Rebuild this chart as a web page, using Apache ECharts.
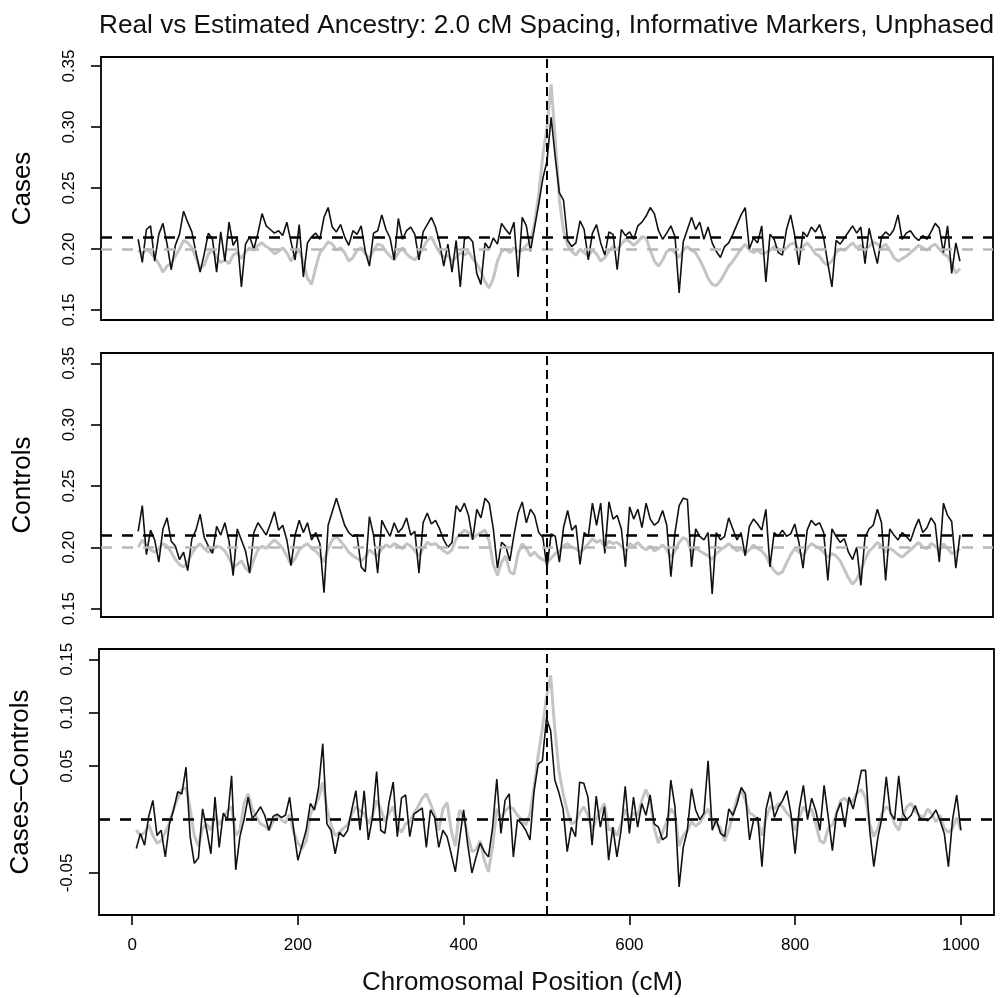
<!DOCTYPE html>
<html>
<head>
<meta charset="utf-8">
<title>Real vs Estimated Ancestry</title>
<script src="https://cdn.jsdelivr.net/npm/echarts@6/dist/echarts.min.js"></script>
<style>
  html, body { margin: 0; padding: 0; background: #fff; }
  #chart { width: 1002px; height: 998px; }
</style>
</head>
<body>
<div id="chart"></div>
<script>
const chart = echarts.init(document.getElementById('chart'));
const font = 'Liberation Sans, Arial, Helvetica, sans-serif';

// marker positions, cM (5 cM grid, 5..1000)
const positions = [];
for (let cM = 5; cM <= 1000; cM += 5) positions.push(cM);

const xTicks = [0, 200, 400, 600, 800, 1000];
const ancestryTicks = [0.15, 0.20, 0.25, 0.30, 0.35];
const diffTicks = [-0.05, 0.05, 0.10, 0.15];

const estimatedMean = 0.212;
const realMean = 0.200;
const locusPosition = 500;

// Cases: estimated (black) and real (grey)
const casesEstimated = [
  0.208, 0.189, 0.216, 0.219, 0.190, 0.212, 0.221, 0.204, 0.183, 0.203,
  0.212, 0.231, 0.222, 0.214, 0.197, 0.181, 0.196, 0.213, 0.208, 0.181,
  0.214, 0.190, 0.222, 0.203, 0.209, 0.169, 0.204, 0.210, 0.200, 0.213,
  0.229, 0.219, 0.216, 0.213, 0.215, 0.211, 0.222, 0.206, 0.191, 0.220,
  0.177, 0.205, 0.210, 0.213, 0.208, 0.226, 0.234, 0.218, 0.214, 0.220,
  0.210, 0.203, 0.215, 0.212, 0.219, 0.198, 0.186, 0.213, 0.215, 0.228,
  0.216, 0.209, 0.191, 0.225, 0.208, 0.215, 0.218, 0.212, 0.191, 0.214,
  0.220, 0.226, 0.218, 0.205, 0.186, 0.204, 0.181, 0.207, 0.169, 0.208,
  0.210, 0.206, 0.180, 0.171, 0.205, 0.200, 0.209, 0.204, 0.221, 0.216,
  0.212, 0.222, 0.177, 0.226, 0.219, 0.198, 0.218, 0.237, 0.258, 0.272,
  0.308, 0.275, 0.246, 0.240, 0.207, 0.202, 0.205, 0.223, 0.216, 0.191,
  0.213, 0.220, 0.205, 0.195, 0.214, 0.212, 0.183, 0.216, 0.211, 0.214,
  0.208, 0.219, 0.222, 0.227, 0.234, 0.229, 0.215, 0.208, 0.213, 0.219,
  0.210, 0.164, 0.206, 0.216, 0.226, 0.216, 0.222, 0.208, 0.218, 0.205,
  0.198, 0.193, 0.202, 0.205, 0.212, 0.220, 0.228, 0.234, 0.200, 0.209,
  0.205, 0.219, 0.173, 0.212, 0.208, 0.197, 0.195, 0.216, 0.228, 0.211,
  0.187, 0.214, 0.210, 0.218, 0.214, 0.220, 0.209, 0.188, 0.169, 0.207,
  0.204, 0.209, 0.214, 0.219, 0.213, 0.218, 0.188, 0.217, 0.202, 0.188,
  0.210, 0.214, 0.211, 0.216, 0.228, 0.208, 0.213, 0.215, 0.210, 0.207,
  0.211, 0.208, 0.214, 0.221, 0.217, 0.197, 0.219, 0.180, 0.205, 0.190
];
const casesReal = [
  0.199, 0.196, 0.200, 0.197, 0.193, 0.188, 0.181, 0.186, 0.188, 0.194,
  0.200, 0.207, 0.205, 0.201, 0.193, 0.184, 0.187, 0.196, 0.199, 0.193,
  0.189, 0.191, 0.188, 0.195, 0.197, 0.192, 0.198, 0.201, 0.199, 0.203,
  0.205, 0.202, 0.200, 0.196, 0.198, 0.201, 0.197, 0.190, 0.196, 0.199,
  0.189, 0.176, 0.171, 0.185, 0.197, 0.201, 0.206, 0.204, 0.199, 0.201,
  0.197, 0.190, 0.193, 0.199, 0.201, 0.196, 0.192, 0.199, 0.204, 0.203,
  0.198, 0.194, 0.191, 0.197, 0.201, 0.196, 0.193, 0.191, 0.195, 0.201,
  0.207, 0.210, 0.203, 0.197, 0.193, 0.195, 0.190, 0.193, 0.197, 0.195,
  0.198, 0.192, 0.188, 0.182, 0.173, 0.168, 0.176, 0.190, 0.198, 0.200,
  0.197, 0.201, 0.198, 0.199, 0.203, 0.206, 0.221, 0.245, 0.277, 0.300,
  0.335, 0.290, 0.240, 0.215, 0.203, 0.198, 0.195, 0.200, 0.197, 0.194,
  0.199, 0.196, 0.190, 0.193, 0.198, 0.202, 0.199, 0.204, 0.208, 0.206,
  0.203, 0.206, 0.210, 0.209, 0.199, 0.190, 0.186, 0.191, 0.198, 0.200,
  0.197, 0.193, 0.199, 0.202, 0.199, 0.197, 0.191, 0.184, 0.176, 0.171,
  0.170, 0.174, 0.180, 0.186, 0.190, 0.195, 0.200, 0.204, 0.199, 0.197,
  0.199, 0.196, 0.197, 0.199, 0.202, 0.200, 0.198, 0.201, 0.204, 0.205,
  0.199, 0.202, 0.205, 0.201, 0.196, 0.194, 0.189, 0.187, 0.190, 0.197,
  0.200, 0.199, 0.202, 0.205, 0.201, 0.203, 0.200, 0.202, 0.206, 0.204,
  0.201, 0.204, 0.199, 0.193, 0.190, 0.192, 0.194, 0.197, 0.200, 0.203,
  0.201, 0.199, 0.202, 0.204, 0.200, 0.196, 0.194, 0.188, 0.180, 0.184
];

// Controls: estimated (black) and real (grey)
const controlsEstimated = [
  0.213, 0.234, 0.194, 0.214, 0.206, 0.188, 0.215, 0.224, 0.205, 0.201,
  0.190, 0.196, 0.181, 0.207, 0.214, 0.227, 0.208, 0.201, 0.195, 0.217,
  0.210, 0.220, 0.205, 0.177, 0.215, 0.206, 0.197, 0.179, 0.212, 0.220,
  0.215, 0.210, 0.219, 0.229, 0.214, 0.218, 0.206, 0.185, 0.210, 0.222,
  0.212, 0.220, 0.206, 0.212, 0.203, 0.163, 0.218, 0.229, 0.240, 0.229,
  0.218, 0.212, 0.209, 0.210, 0.184, 0.180, 0.225, 0.210, 0.179, 0.222,
  0.215, 0.209, 0.220, 0.212, 0.216, 0.224, 0.210, 0.213, 0.179, 0.220,
  0.228, 0.219, 0.222, 0.215, 0.206, 0.200, 0.204, 0.234, 0.229, 0.236,
  0.226, 0.206, 0.231, 0.224, 0.240, 0.236, 0.215, 0.183, 0.204, 0.201,
  0.189, 0.210, 0.228, 0.237, 0.220, 0.231, 0.226, 0.212, 0.208, 0.183,
  0.211, 0.209, 0.188, 0.216, 0.230, 0.214, 0.218, 0.186, 0.212, 0.209,
  0.236, 0.218, 0.236, 0.195, 0.237, 0.223, 0.226, 0.215, 0.184, 0.233,
  0.223, 0.231, 0.216, 0.236, 0.223, 0.218, 0.221, 0.230, 0.218, 0.176,
  0.212, 0.234, 0.240, 0.239, 0.184, 0.215, 0.209, 0.206, 0.212, 0.162,
  0.212, 0.206, 0.209, 0.224, 0.215, 0.206, 0.212, 0.193, 0.217, 0.223,
  0.219, 0.214, 0.231, 0.184, 0.212, 0.209, 0.214, 0.209, 0.211, 0.219,
  0.204, 0.183, 0.214, 0.222, 0.218, 0.220, 0.212, 0.173, 0.215, 0.209,
  0.204, 0.207, 0.196, 0.190, 0.200, 0.169, 0.208, 0.215, 0.218, 0.231,
  0.220, 0.173, 0.215, 0.210, 0.206, 0.212, 0.209, 0.205, 0.215, 0.223,
  0.212, 0.216, 0.224, 0.219, 0.188, 0.236, 0.226, 0.221, 0.183, 0.210
];
const controlsReal = [
  0.200, 0.206, 0.201, 0.198, 0.196, 0.199, 0.203, 0.201, 0.196, 0.190,
  0.186, 0.184, 0.188, 0.195, 0.200, 0.203, 0.199, 0.196, 0.198, 0.201,
  0.200, 0.197, 0.191, 0.184, 0.186, 0.189, 0.183, 0.180, 0.190, 0.198,
  0.201, 0.199, 0.203, 0.206, 0.203, 0.199, 0.193, 0.186, 0.191, 0.198,
  0.201, 0.203, 0.199, 0.197, 0.193, 0.188, 0.199, 0.206, 0.209, 0.205,
  0.201, 0.196, 0.193, 0.191, 0.189, 0.192, 0.198, 0.195, 0.193, 0.199,
  0.202, 0.200, 0.203, 0.201, 0.199, 0.203, 0.201, 0.197, 0.193, 0.199,
  0.204, 0.202, 0.203, 0.200, 0.197, 0.195, 0.198, 0.207, 0.211, 0.214,
  0.212, 0.207, 0.210, 0.212, 0.214, 0.205, 0.186, 0.177, 0.188, 0.193,
  0.180, 0.178, 0.195, 0.203, 0.199, 0.193, 0.196, 0.192, 0.190, 0.188,
  0.191, 0.195, 0.197, 0.201, 0.203, 0.200, 0.199, 0.196, 0.199, 0.203,
  0.207, 0.204, 0.206, 0.200, 0.205, 0.203, 0.204, 0.201, 0.197, 0.203,
  0.201, 0.204, 0.200, 0.198, 0.201, 0.197, 0.199, 0.202, 0.198, 0.192,
  0.197, 0.204, 0.208, 0.206, 0.196, 0.199, 0.197, 0.195, 0.193, 0.190,
  0.195, 0.198, 0.200, 0.203, 0.200, 0.197, 0.199, 0.195, 0.198, 0.202,
  0.199, 0.197, 0.193, 0.186, 0.181, 0.178, 0.180, 0.187, 0.194, 0.199,
  0.196, 0.193, 0.199, 0.203, 0.201, 0.199, 0.196, 0.192, 0.195, 0.193,
  0.189, 0.182, 0.175, 0.170, 0.174, 0.181, 0.190, 0.197, 0.200, 0.204,
  0.201, 0.196, 0.199, 0.197, 0.194, 0.192, 0.195, 0.198, 0.201, 0.204,
  0.200, 0.199, 0.203, 0.201, 0.197, 0.203, 0.199, 0.195, 0.196, 0.199
];

// Cases-Controls: estimated (black) and real (grey)
const diffEstimated = [
  -0.027, -0.013, -0.024, 0.003, 0.018, -0.015, -0.010, -0.035, -0.004, 0.009,
  0.026, 0.024, 0.049, -0.016, -0.041, -0.036, 0.010, -0.010, -0.032, 0.021,
  -0.026, 0.006, 0.000, 0.041, -0.047, -0.016, 0.000, 0.021, 0.001, 0.006,
  0.012, 0.004, -0.010, 0.003, 0.005, 0.002, 0.004, 0.021, -0.010, -0.038,
  -0.024, -0.010, 0.015, 0.009, 0.030, 0.071, -0.004, -0.010, -0.032, -0.012,
  -0.016, -0.010, 0.009, 0.027, -0.010, 0.027, -0.019, 0.002, 0.045, -0.010,
  -0.013, 0.016, 0.035, -0.016, 0.020, 0.023, -0.016, 0.005, 0.008, 0.011,
  -0.026, 0.009, 0.002, -0.026, -0.010, -0.016, -0.032, -0.049, -0.019, 0.009,
  -0.024, -0.050, -0.035, -0.022, -0.030, -0.035, -0.007, 0.038, -0.013, 0.018,
  0.024, -0.035, 0.000, -0.004, -0.010, -0.019, 0.027, 0.052, 0.055, 0.095,
  0.083, 0.037, 0.025, 0.010, -0.030, -0.007, -0.016, 0.035, 0.034, 0.021,
  -0.024, 0.022, -0.007, 0.012, -0.038, -0.007, -0.035, -0.010, 0.031, -0.013,
  0.021, -0.007, 0.015, 0.004, 0.023, -0.004, -0.007, -0.019, -0.016, 0.037,
  0.012, -0.063, -0.026, -0.010, 0.029, 0.009, 0.000, 0.006, 0.055, -0.010,
  0.000, -0.013, -0.016, 0.010, 0.004, 0.015, 0.030, 0.024, -0.019, 0.000,
  0.002, -0.044, 0.010, 0.026, 0.002, 0.012, 0.018, 0.027, 0.005, -0.032,
  0.010, 0.032, 0.000, 0.020, 0.008, -0.010, 0.032, 0.002, -0.029, 0.006,
  0.016, -0.007, 0.021, 0.010, 0.027, 0.046, 0.046, -0.010, -0.044, -0.016,
  0.002, 0.040, 0.006, 0.000, 0.041, 0.006, 0.000, 0.004, 0.013, 0.002,
  0.000, -0.001, 0.003, 0.009, -0.001, -0.013, -0.044, 0.000, 0.023, -0.010
];
const diffReal = [
  -0.010, -0.015, -0.012, -0.005, -0.015, -0.022, -0.020, -0.012, -0.003, 0.010,
  0.020, 0.028, 0.030, 0.010, -0.015, -0.025, -0.008, -0.004, -0.010, 0.005,
  -0.005, 0.002, 0.008, 0.012, -0.015, -0.010, 0.015, 0.024, 0.010, 0.002,
  -0.004, -0.006, -0.010, -0.002, 0.004, 0.000, -0.003, 0.005, -0.012, -0.022,
  -0.027, -0.020, 0.005, 0.012, 0.020, 0.035, 0.010, -0.005, -0.015, -0.012,
  -0.008, -0.005, 0.005, 0.012, 0.008, 0.006, -0.004, 0.004, 0.018, 0.010,
  -0.002, 0.006, 0.012, -0.006, -0.012, -0.004, -0.002, 0.006, 0.012, 0.020,
  0.024, 0.015, 0.005, -0.010, 0.010, 0.016, -0.010, -0.025, 0.009, 0.003,
  -0.015, -0.030, -0.028, -0.020, -0.038, -0.049, -0.025, 0.010, 0.000, 0.008,
  0.012, 0.010, 0.004, 0.000, -0.005, 0.005, 0.030, 0.060, 0.085, 0.115,
  0.135, 0.085, 0.046, 0.025, 0.008, -0.004, -0.002, 0.006, 0.012, 0.004,
  -0.010, 0.000, 0.008, 0.015, -0.010, -0.008, -0.015, -0.005, 0.010, -0.002,
  0.006, 0.004, 0.018, 0.028, 0.018, -0.008, -0.022, -0.012, -0.002, 0.010,
  0.005, -0.025, -0.015, -0.010, -0.002, -0.006, -0.003, 0.004, 0.010, -0.002,
  -0.004, -0.008, -0.020, -0.010, 0.005, 0.020, 0.028, 0.018, 0.006, 0.004,
  -0.002, -0.015, 0.002, 0.012, 0.010, 0.015, 0.012, 0.006, 0.002, -0.010,
  0.002, 0.012, 0.006, 0.010, -0.004, -0.020, -0.022, -0.008, -0.005, 0.006,
  0.018, 0.020, 0.015, 0.018, 0.025, 0.028, 0.020, -0.004, -0.016, -0.008,
  0.006, 0.012, 0.008, -0.004, -0.010, 0.004, 0.012, 0.015, 0.008, 0.004,
  0.002, 0.010, 0.005, -0.002, 0.004, -0.008, -0.012, -0.008, 0.002, -0.010
];

const toPairs = values => positions.map((p, i) => [p, values[i]]);

const grids = [
  { left: 101, top: 57, width: 892, height: 263 },
  { left: 101, top: 353, width: 892, height: 264 },
  { left: 98, top: 649, width: 896, height: 266 }
];

const panelNames = ['Cases', 'Controls', 'Cases\u2013Controls'];
const panelRanges = [[0.1418, 0.3574], [0.1432, 0.3584], [-0.0893, 0.1596]];
const panelTicks = [ancestryTicks, ancestryTicks, diffTicks];
const panelBlack = [casesEstimated, controlsEstimated, diffEstimated];
const panelGrey = [casesReal, controlsReal, diffReal];
const blackLevels = [estimatedMean, estimatedMean, 0];
const greyLevels = [realMean, realMean, 0];

const tickStyle = { color: '#000', width: 1.6 };

const xAxes = grids.map((g, i) => ({
  gridIndex: i,
  type: 'value',
  min: -40,
  max: 1040,
  axisLine: { show: false, onZero: false },
  splitLine: { show: false },
  axisTick: { show: i === 2, customValues: xTicks, length: 10, lineStyle: tickStyle },
  axisLabel: {
    show: i === 2,
    customValues: xTicks,
    fontSize: 17,
    color: '#000',
    margin: 22,
    fontFamily: font,
    formatter: v => String(v)
  }
}));

const yAxes = grids.map((g, i) => ({
  gridIndex: i,
  type: 'value',
  min: panelRanges[i][0],
  max: panelRanges[i][1],
  name: panelNames[i],
  nameLocation: 'middle',
  nameRotate: 90,
  nameGap: 65,
  nameTextStyle: { fontSize: 26, color: '#000', fontFamily: font },
  axisLine: { show: false, onZero: false },
  splitLine: { show: false },
  axisTick: { show: true, customValues: panelTicks[i], length: 10, lineStyle: tickStyle },
  axisLabel: {
    customValues: panelTicks[i],
    rotate: 90,
    margin: 23,
    fontSize: 17,
    color: '#000',
    fontFamily: font,
    formatter: v => v.toFixed(2)
  }
}));

const series = [];
grids.forEach((g, i) => {
  series.push({
    name: 'real',
    type: 'line',
    xAxisIndex: i,
    yAxisIndex: i,
    data: toPairs(panelGrey[i]),
    showSymbol: false,
    z: 2,
    lineStyle: { color: '#c4c4c4', width: 3 },
    markLine: {
      silent: true,
      symbol: 'none',
      animation: false,
      label: { show: false },
      data: [{ yAxis: greyLevels[i], lineStyle: { color: '#b8b8b8', width: 2.5, type: [11, 10] } }]
    }
  });
  series.push({
    name: 'estimated',
    type: 'line',
    xAxisIndex: i,
    yAxisIndex: i,
    data: toPairs(panelBlack[i]),
    showSymbol: false,
    z: 3,
    lineStyle: { color: '#111', width: 1.6 },
    markLine: {
      silent: true,
      symbol: 'none',
      animation: false,
      label: { show: false },
      data: [
        { yAxis: blackLevels[i], lineStyle: { color: '#000', width: 2.5, type: [11, 10] } },
        { xAxis: locusPosition, lineStyle: { color: '#000', width: 2, type: [9, 5] } }
      ]
    }
  });
});

chart.setOption({
  backgroundColor: '#fff',
  animation: false,
  title: [
    {
      text: 'Real vs Estimated Ancestry: 2.0 cM Spacing, Informative Markers, Unphased',
      left: 99,
      top: 13,
      padding: 0,
      textStyle: { fontSize: 26.2, fontWeight: 'normal', color: '#111', fontFamily: font }
    },
    {
      text: 'Chromosomal Position (cM)',
      left: 362,
      top: 970,
      padding: 0,
      textStyle: { fontSize: 26, fontWeight: 'normal', color: '#111', fontFamily: font }
    }
  ],
  grid: grids.map(g => Object.assign({ show: true, borderColor: '#000', borderWidth: 1.8, backgroundColor: 'transparent' }, g)),
  xAxis: xAxes,
  yAxis: yAxes,
  series: series
});
</script>
</body>
</html>
